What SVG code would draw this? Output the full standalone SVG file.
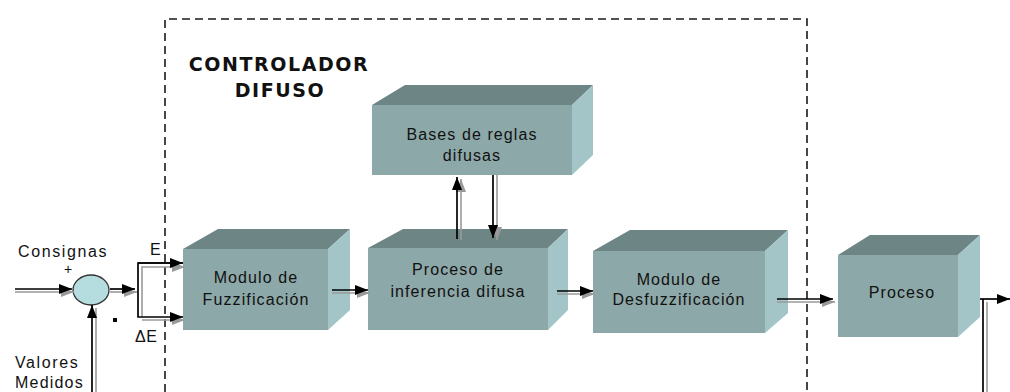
<svg xmlns="http://www.w3.org/2000/svg" width="1010" height="392" viewBox="0 0 1010 392">
<style>
.front{fill:#8DA8A8}
.top{fill:#6D8585}
.side{fill:#A4C5C8}
.lbl{font-family:"Liberation Sans",Arial,sans-serif;font-size:16px;letter-spacing:1.1px;fill:#111;text-anchor:middle}
.sm{font-family:"Liberation Sans",Arial,sans-serif;font-size:16px;letter-spacing:1.6px;fill:#111}
.title{font-family:"DejaVu Sans","Liberation Sans",sans-serif;font-weight:bold;font-size:19px;letter-spacing:1.6px;fill:#111;text-anchor:middle}
.ln{stroke:#000;stroke-width:1.7;fill:none}
.sh{stroke:#9A9A9A;stroke-width:1.6;fill:none}
</style>
<defs>
<marker id="ah" markerUnits="userSpaceOnUse" markerWidth="14" markerHeight="12" refX="13" refY="5" orient="auto">
<path d="M0,0 L13,5 L0,10 z" fill="#000"/>
</marker>
<marker id="ahs" markerUnits="userSpaceOnUse" markerWidth="14" markerHeight="12" refX="13" refY="5" orient="auto">
<path d="M0,0 L13,5 L0,10 z" fill="#9A9A9A"/>
</marker>
</defs>
<rect x="0" y="0" width="1010" height="392" fill="#fff"/>

<g id="controlador">
<path d="M165,392 L165,19 L807,19 L807,392" fill="none" stroke="#1a1a1a" stroke-width="1.6" stroke-dasharray="8,5"/>
<text class="title" x="279" y="71">CONTROLADOR</text>
<text class="title" x="280" y="97">DIFUSO</text>
</g>

<g id="fuzzificacion">
<polygon class="top" points="183,249 218,229 350,229 328,249"/>
<polygon class="side" points="328,249 350,229 350,310 328,330"/>
<rect class="front" x="183" y="249" width="145" height="81"/>
<text class="lbl" x="256" y="283">Modulo de</text>
<text class="lbl" x="256" y="305">Fuzzificación</text>
</g>

<g id="bases">
<polygon class="top" points="372,105 405,85 593,85 572,105"/>
<polygon class="side" points="572,105 593,85 593,155 572,175"/>
<rect class="front" x="372" y="105" width="200" height="70"/>
<text class="lbl" x="472" y="140">Bases de reglas</text>
<text class="lbl" x="472" y="161">difusas</text>
</g>

<g id="inferencia">
<polygon class="top" points="368,248 403,229 568,229 548,248"/>
<polygon class="side" points="548,248 568,229 568,310 548,330"/>
<rect class="front" x="368" y="248" width="180" height="82"/>
<text class="lbl" x="458" y="275">Proceso de</text>
<text class="lbl" x="458" y="297">inferencia difusa</text>
</g>

<g id="desfuzzificacion">
<polygon class="top" points="593,251 630,230 788,230 765,251"/>
<polygon class="side" points="765,251 788,230 788,313 765,333"/>
<rect class="front" x="593" y="251" width="172" height="82"/>
<text class="lbl" x="679" y="285">Modulo de</text>
<text class="lbl" x="679" y="305">Desfuzzificación</text>
</g>

<g id="proceso">
<polygon class="top" points="838,255 870,235 980,235 958,255"/>
<polygon class="side" points="958,255 980,235 980,317 958,337"/>
<rect class="front" x="838" y="255" width="120" height="82"/>
<text class="lbl" x="902" y="298">Proceso</text>
</g>

<g id="sumador">
<ellipse cx="91" cy="290" rx="18" ry="15" fill="#B5DDE0" stroke="#333" stroke-width="1.3"/>
<text class="sm" x="18" y="257">Consignas</text>
<text class="sm" x="64" y="274" style="font-size:14px">+</text>
<rect x="113" y="318" width="4" height="4" fill="#000"/>
<text class="sm" x="135" y="342" style="letter-spacing:0.5px">ΔE</text>
<text class="sm" x="150" y="255">E</text>
<text class="sm" x="15" y="368">Valores</text>
<text class="sm" x="15" y="388" style="letter-spacing:1.2px">Medidos</text>
</g>

<g id="connectors">
<line class="sh" x1="15" y1="292" x2="74" y2="292" marker-end="url(#ahs)"/>
<line class="ln" x1="15" y1="289" x2="72" y2="289" marker-end="url(#ah)"/>
<line class="sh" x1="96" y1="392" x2="96" y2="308"/>
<line class="ln" x1="92" y1="392" x2="92" y2="305" marker-end="url(#ah)"/>
<line class="sh" x1="110" y1="292" x2="137" y2="292" marker-end="url(#ahs)"/>
<line class="ln" x1="110" y1="289" x2="135" y2="289" marker-end="url(#ah)"/>
<path class="sh" d="M142,317 L142,267 L185,267" marker-end="url(#ahs)"/>
<path class="sh" d="M142,320 L185,320" marker-end="url(#ahs)"/>
<path class="ln" d="M183,263 L138,263 L138,317 L183,317" marker-end="url(#ah)"/>
<line class="ln" x1="138" y1="263" x2="183" y2="263" marker-end="url(#ah)"/>
<line class="sh" x1="332" y1="293" x2="370" y2="293" marker-end="url(#ahs)"/>
<line class="ln" x1="332" y1="290" x2="368" y2="290" marker-end="url(#ah)"/>
<line class="sh" x1="557" y1="294" x2="595" y2="294" marker-end="url(#ahs)"/>
<line class="ln" x1="557" y1="291" x2="593" y2="291" marker-end="url(#ah)"/>
<line class="sh" x1="461" y1="240" x2="461" y2="179" marker-end="url(#ahs)"/>
<line class="ln" x1="457" y1="239" x2="457" y2="177" marker-end="url(#ah)"/>
<line class="sh" x1="497" y1="175" x2="497" y2="240" marker-end="url(#ahs)"/>
<line class="ln" x1="493" y1="175" x2="493" y2="238" marker-end="url(#ah)"/>
<line class="sh" x1="777" y1="302" x2="835" y2="302" marker-end="url(#ahs)"/>
<line class="ln" x1="777" y1="299" x2="833" y2="299" marker-end="url(#ah)"/>
<line class="sh" x1="987" y1="302" x2="987" y2="392"/>
<line class="ln" x1="980" y1="299" x2="1010" y2="299" marker-end="url(#ah)"/>
<line class="ln" x1="983" y1="299" x2="983" y2="392"/>
</g>
</svg>
